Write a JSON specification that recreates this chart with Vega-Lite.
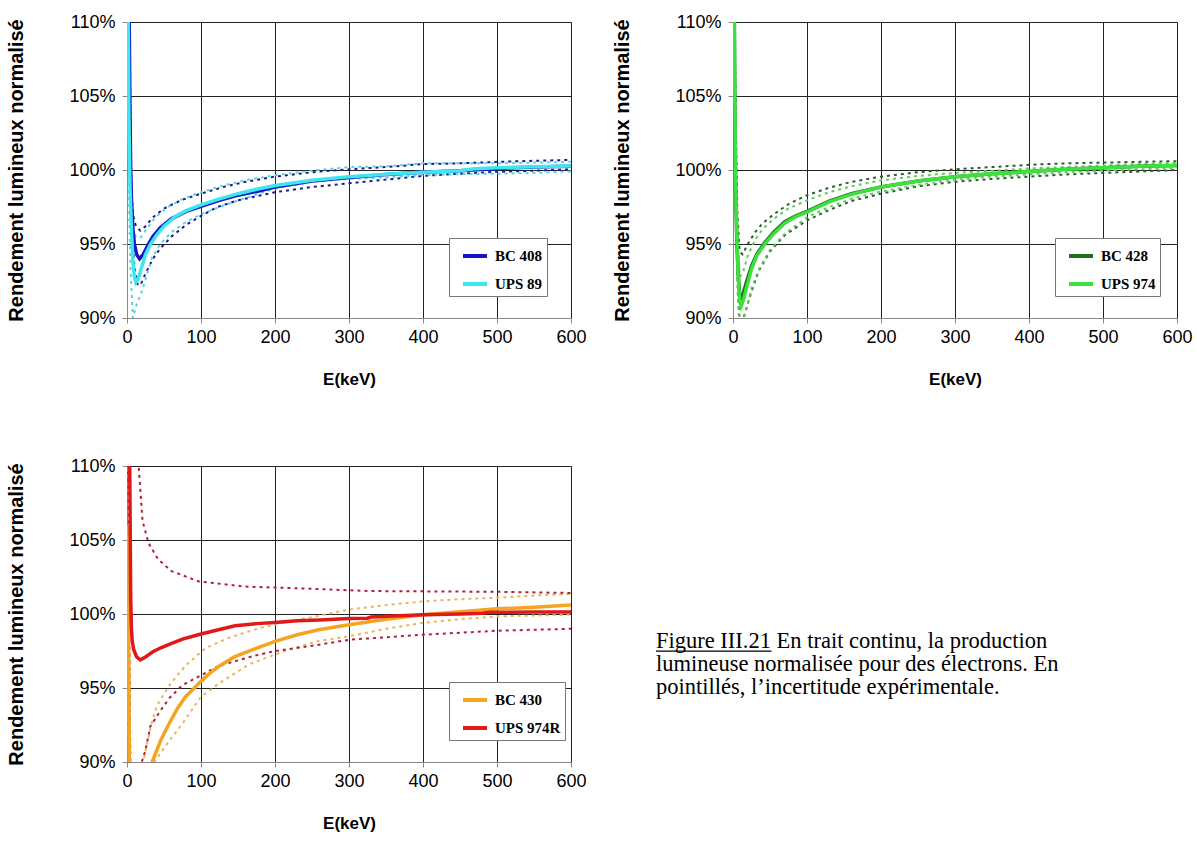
{
  "$schema": "https://vega.github.io/schema/vega-lite/v6.json",
  "padding": {"left": 6, "top": 12, "right": 5, "bottom": 5},
  "background": "white",
  "datasets": {
    "p1s": [
      {"s":"BC 408","E":0.5,"v":130},{"s":"BC 408","E":2,"v":118},{"s":"BC 408","E":3,"v":110},{"s":"BC 408","E":4,"v":104},{"s":"BC 408","E":5,"v":100},{"s":"BC 408","E":6,"v":98},{"s":"BC 408","E":8,"v":96},{"s":"BC 408","E":10,"v":95},{"s":"BC 408","E":13,"v":94.3},{"s":"BC 408","E":17,"v":94.0},{"s":"BC 408","E":22,"v":94.3},{"s":"BC 408","E":28,"v":94.9},{"s":"BC 408","E":35,"v":95.5},{"s":"BC 408","E":45,"v":96.1},{"s":"BC 408","E":60,"v":96.7},{"s":"BC 408","E":80,"v":97.2},{"s":"BC 408","E":100,"v":97.55},{"s":"BC 408","E":125,"v":97.95},{"s":"BC 408","E":150,"v":98.3},{"s":"BC 408","E":175,"v":98.55},{"s":"BC 408","E":200,"v":98.85},{"s":"BC 408","E":250,"v":99.25},{"s":"BC 408","E":300,"v":99.5},{"s":"BC 408","E":350,"v":99.7},{"s":"BC 408","E":400,"v":99.85},{"s":"BC 408","E":450,"v":99.95},{"s":"BC 408","E":500,"v":100.1},{"s":"BC 408","E":550,"v":100.2},{"s":"BC 408","E":600,"v":100.25},
      {"s":"UPS 89","E":0.5,"v":125},{"s":"UPS 89","E":1.5,"v":112},{"s":"UPS 89","E":2.5,"v":104},{"s":"UPS 89","E":4,"v":99},{"s":"UPS 89","E":6,"v":96},{"s":"UPS 89","E":8,"v":93.8},{"s":"UPS 89","E":10,"v":92.8},{"s":"UPS 89","E":12,"v":92.4},{"s":"UPS 89","E":15,"v":92.6},{"s":"UPS 89","E":19,"v":93.3},{"s":"UPS 89","E":25,"v":94.3},{"s":"UPS 89","E":32,"v":95.0},{"s":"UPS 89","E":40,"v":95.6},{"s":"UPS 89","E":50,"v":96.2},{"s":"UPS 89","E":65,"v":96.85},{"s":"UPS 89","E":80,"v":97.25},{"s":"UPS 89","E":100,"v":97.65},{"s":"UPS 89","E":125,"v":98.05},{"s":"UPS 89","E":150,"v":98.4},{"s":"UPS 89","E":175,"v":98.7},{"s":"UPS 89","E":200,"v":98.95},{"s":"UPS 89","E":250,"v":99.3},{"s":"UPS 89","E":300,"v":99.55},{"s":"UPS 89","E":350,"v":99.72},{"s":"UPS 89","E":400,"v":99.85},{"s":"UPS 89","E":450,"v":99.95},{"s":"UPS 89","E":470,"v":100.08},{"s":"UPS 89","E":500,"v":100.15},{"s":"UPS 89","E":550,"v":100.22},{"s":"UPS 89","E":600,"v":100.27}
    ],
    "p1d": [
      {"s":"BC 408","b":"hi","E":2,"v":112},{"s":"BC 408","b":"hi","E":4,"v":106},{"s":"BC 408","b":"hi","E":5,"v":102},{"s":"BC 408","b":"hi","E":6,"v":99},{"s":"BC 408","b":"hi","E":8,"v":97},{"s":"BC 408","b":"hi","E":12,"v":96.2},{"s":"BC 408","b":"hi","E":18,"v":95.9},{"s":"BC 408","b":"hi","E":25,"v":96.2},{"s":"BC 408","b":"hi","E":35,"v":96.8},{"s":"BC 408","b":"hi","E":50,"v":97.4},{"s":"BC 408","b":"hi","E":75,"v":98.0},{"s":"BC 408","b":"hi","E":100,"v":98.4},{"s":"BC 408","b":"hi","E":130,"v":98.85},{"s":"BC 408","b":"hi","E":160,"v":99.2},{"s":"BC 408","b":"hi","E":200,"v":99.55},{"s":"BC 408","b":"hi","E":250,"v":99.85},{"s":"BC 408","b":"hi","E":300,"v":100.05},{"s":"BC 408","b":"hi","E":350,"v":100.2},{"s":"BC 408","b":"hi","E":400,"v":100.4},{"s":"BC 408","b":"hi","E":450,"v":100.45},{"s":"BC 408","b":"hi","E":500,"v":100.55},{"s":"BC 408","b":"hi","E":550,"v":100.62},{"s":"BC 408","b":"hi","E":600,"v":100.68},
      {"s":"BC 408","b":"lo","E":3,"v":108},{"s":"BC 408","b":"lo","E":5,"v":100},{"s":"BC 408","b":"lo","E":7,"v":96},{"s":"BC 408","b":"lo","E":10,"v":93.5},{"s":"BC 408","b":"lo","E":14,"v":92.3},{"s":"BC 408","b":"lo","E":18,"v":92.2},{"s":"BC 408","b":"lo","E":25,"v":93.0},{"s":"BC 408","b":"lo","E":35,"v":94.0},{"s":"BC 408","b":"lo","E":45,"v":94.7},{"s":"BC 408","b":"lo","E":60,"v":95.5},{"s":"BC 408","b":"lo","E":80,"v":96.3},{"s":"BC 408","b":"lo","E":100,"v":96.9},{"s":"BC 408","b":"lo","E":122,"v":97.5},{"s":"BC 408","b":"lo","E":150,"v":97.95},{"s":"BC 408","b":"lo","E":200,"v":98.5},{"s":"BC 408","b":"lo","E":250,"v":98.85},{"s":"BC 408","b":"lo","E":320,"v":99.2},{"s":"BC 408","b":"lo","E":400,"v":99.6},{"s":"BC 408","b":"lo","E":450,"v":99.75},{"s":"BC 408","b":"lo","E":500,"v":99.88},{"s":"BC 408","b":"lo","E":550,"v":99.95},{"s":"BC 408","b":"lo","E":600,"v":100.05},
      {"s":"UPS 89","b":"hi","E":1,"v":115},{"s":"UPS 89","b":"hi","E":2,"v":106},{"s":"UPS 89","b":"hi","E":3,"v":101},{"s":"UPS 89","b":"hi","E":5,"v":97.5},{"s":"UPS 89","b":"hi","E":8,"v":96},{"s":"UPS 89","b":"hi","E":12,"v":95.5},{"s":"UPS 89","b":"hi","E":18,"v":95.4},{"s":"UPS 89","b":"hi","E":25,"v":95.9},{"s":"UPS 89","b":"hi","E":35,"v":96.6},{"s":"UPS 89","b":"hi","E":45,"v":97.1},{"s":"UPS 89","b":"hi","E":57,"v":97.55},{"s":"UPS 89","b":"hi","E":75,"v":98.05},{"s":"UPS 89","b":"hi","E":100,"v":98.5},{"s":"UPS 89","b":"hi","E":130,"v":98.95},{"s":"UPS 89","b":"hi","E":160,"v":99.3},{"s":"UPS 89","b":"hi","E":200,"v":99.65},{"s":"UPS 89","b":"hi","E":250,"v":99.95},{"s":"UPS 89","b":"hi","E":300,"v":100.2},{"s":"UPS 89","b":"hi","E":350,"v":100.25},{"s":"UPS 89","b":"hi","E":400,"v":100.45},{"s":"UPS 89","b":"hi","E":450,"v":100.45},{"s":"UPS 89","b":"hi","E":500,"v":100.45},{"s":"UPS 89","b":"hi","E":550,"v":100.5},{"s":"UPS 89","b":"hi","E":600,"v":100.56},
      {"s":"UPS 89","b":"lo","E":1,"v":110},{"s":"UPS 89","b":"lo","E":2,"v":103},{"s":"UPS 89","b":"lo","E":3,"v":97},{"s":"UPS 89","b":"lo","E":5,"v":93},{"s":"UPS 89","b":"lo","E":8,"v":90.0},{"s":"UPS 89","b":"lo","E":13,"v":90.9},{"s":"UPS 89","b":"lo","E":20,"v":91.8},{"s":"UPS 89","b":"lo","E":25,"v":92.6},{"s":"UPS 89","b":"lo","E":34,"v":94.1},{"s":"UPS 89","b":"lo","E":45,"v":95.0},{"s":"UPS 89","b":"lo","E":60,"v":95.8},{"s":"UPS 89","b":"lo","E":80,"v":96.5},{"s":"UPS 89","b":"lo","E":100,"v":97.0},{"s":"UPS 89","b":"lo","E":130,"v":97.6},{"s":"UPS 89","b":"lo","E":160,"v":98.1},{"s":"UPS 89","b":"lo","E":200,"v":98.75},{"s":"UPS 89","b":"lo","E":250,"v":99.2},{"s":"UPS 89","b":"lo","E":300,"v":99.4},{"s":"UPS 89","b":"lo","E":350,"v":99.5},{"s":"UPS 89","b":"lo","E":400,"v":99.65},{"s":"UPS 89","b":"lo","E":450,"v":99.72},{"s":"UPS 89","b":"lo","E":500,"v":99.75},{"s":"UPS 89","b":"lo","E":550,"v":99.8},{"s":"UPS 89","b":"lo","E":600,"v":99.9}
    ],
    "p2s": [
      {"s":"BC 428","E":0.5,"v":125},{"s":"BC 428","E":1.5,"v":112},{"s":"BC 428","E":2.5,"v":104},{"s":"BC 428","E":3.5,"v":99},{"s":"BC 428","E":5,"v":95.5},{"s":"BC 428","E":7,"v":93},{"s":"BC 428","E":9,"v":91.6},{"s":"BC 428","E":11,"v":91.3},{"s":"BC 428","E":14,"v":91.7},{"s":"BC 428","E":18,"v":92.4},{"s":"BC 428","E":25,"v":93.5},{"s":"BC 428","E":32,"v":94.3},{"s":"BC 428","E":43,"v":95.1},{"s":"BC 428","E":55,"v":95.8},{"s":"BC 428","E":70,"v":96.5},{"s":"BC 428","E":85,"v":96.9},{"s":"BC 428","E":100,"v":97.2},{"s":"BC 428","E":130,"v":97.9},{"s":"BC 428","E":160,"v":98.4},{"s":"BC 428","E":200,"v":98.85},{"s":"BC 428","E":250,"v":99.25},{"s":"BC 428","E":300,"v":99.55},{"s":"BC 428","E":350,"v":99.75},{"s":"BC 428","E":400,"v":99.9},{"s":"BC 428","E":450,"v":100.05},{"s":"BC 428","E":500,"v":100.15},{"s":"BC 428","E":550,"v":100.25},{"s":"BC 428","E":600,"v":100.3},
      {"s":"UPS 974","E":0.5,"v":126},{"s":"UPS 974","E":1.5,"v":113},{"s":"UPS 974","E":2.5,"v":105},{"s":"UPS 974","E":3.5,"v":99.5},{"s":"UPS 974","E":5,"v":96},{"s":"UPS 974","E":7,"v":92.8},{"s":"UPS 974","E":9,"v":91.2},{"s":"UPS 974","E":11,"v":90.8},{"s":"UPS 974","E":14,"v":91.2},{"s":"UPS 974","E":18,"v":92.0},{"s":"UPS 974","E":25,"v":93.3},{"s":"UPS 974","E":32,"v":94.2},{"s":"UPS 974","E":43,"v":95.0},{"s":"UPS 974","E":55,"v":95.7},{"s":"UPS 974","E":70,"v":96.4},{"s":"UPS 974","E":85,"v":96.85},{"s":"UPS 974","E":100,"v":97.15},{"s":"UPS 974","E":130,"v":97.85},{"s":"UPS 974","E":160,"v":98.35},{"s":"UPS 974","E":200,"v":98.85},{"s":"UPS 974","E":250,"v":99.25},{"s":"UPS 974","E":300,"v":99.55},{"s":"UPS 974","E":350,"v":99.75},{"s":"UPS 974","E":400,"v":99.9},{"s":"UPS 974","E":450,"v":100.05},{"s":"UPS 974","E":500,"v":100.15},{"s":"UPS 974","E":550,"v":100.25},{"s":"UPS 974","E":600,"v":100.3}
    ],
    "p2d": [
      {"s":"BC 428","b":"hi","E":2,"v":110},{"s":"BC 428","b":"hi","E":4,"v":102.7},{"s":"BC 428","b":"hi","E":6,"v":97},{"s":"BC 428","b":"hi","E":9,"v":94.5},{"s":"BC 428","b":"hi","E":13,"v":94.3},{"s":"BC 428","b":"hi","E":20,"v":95.0},{"s":"BC 428","b":"hi","E":30,"v":95.8},{"s":"BC 428","b":"hi","E":40,"v":96.4},{"s":"BC 428","b":"hi","E":55,"v":97.0},{"s":"BC 428","b":"hi","E":75,"v":97.7},{"s":"BC 428","b":"hi","E":100,"v":98.3},{"s":"BC 428","b":"hi","E":130,"v":98.8},{"s":"BC 428","b":"hi","E":160,"v":99.2},{"s":"BC 428","b":"hi","E":200,"v":99.55},{"s":"BC 428","b":"hi","E":250,"v":99.85},{"s":"BC 428","b":"hi","E":300,"v":100.05},{"s":"BC 428","b":"hi","E":350,"v":100.2},{"s":"BC 428","b":"hi","E":400,"v":100.35},{"s":"BC 428","b":"hi","E":450,"v":100.45},{"s":"BC 428","b":"hi","E":500,"v":100.5},{"s":"BC 428","b":"hi","E":550,"v":100.55},{"s":"BC 428","b":"hi","E":600,"v":100.6},
      {"s":"BC 428","b":"lo","E":2,"v":104},{"s":"BC 428","b":"lo","E":4,"v":97},{"s":"BC 428","b":"lo","E":6,"v":93},{"s":"BC 428","b":"lo","E":8,"v":90.5},{"s":"BC 428","b":"lo","E":10,"v":89.5},{"s":"BC 428","b":"lo","E":13,"v":89.8},{"s":"BC 428","b":"lo","E":16,"v":90.3},{"s":"BC 428","b":"lo","E":25,"v":91.8},{"s":"BC 428","b":"lo","E":35,"v":93.2},{"s":"BC 428","b":"lo","E":50,"v":94.5},{"s":"BC 428","b":"lo","E":70,"v":95.6},{"s":"BC 428","b":"lo","E":100,"v":96.6},{"s":"BC 428","b":"lo","E":130,"v":97.3},{"s":"BC 428","b":"lo","E":160,"v":97.9},{"s":"BC 428","b":"lo","E":200,"v":98.4},{"s":"BC 428","b":"lo","E":250,"v":98.9},{"s":"BC 428","b":"lo","E":300,"v":99.2},{"s":"BC 428","b":"lo","E":350,"v":99.4},{"s":"BC 428","b":"lo","E":400,"v":99.55},{"s":"BC 428","b":"lo","E":450,"v":99.7},{"s":"BC 428","b":"lo","E":500,"v":99.8},{"s":"BC 428","b":"lo","E":550,"v":99.9},{"s":"BC 428","b":"lo","E":600,"v":100.0},
      {"s":"UPS 974","b":"hi","E":2,"v":107},{"s":"UPS 974","b":"hi","E":4,"v":99},{"s":"UPS 974","b":"hi","E":6,"v":95},{"s":"UPS 974","b":"hi","E":9,"v":92.8},{"s":"UPS 974","b":"hi","E":13,"v":93.0},{"s":"UPS 974","b":"hi","E":20,"v":94.2},{"s":"UPS 974","b":"hi","E":30,"v":95.3},{"s":"UPS 974","b":"hi","E":40,"v":96.0},{"s":"UPS 974","b":"hi","E":55,"v":96.7},{"s":"UPS 974","b":"hi","E":75,"v":97.4},{"s":"UPS 974","b":"hi","E":100,"v":97.95},{"s":"UPS 974","b":"hi","E":130,"v":98.5},{"s":"UPS 974","b":"hi","E":160,"v":98.9},{"s":"UPS 974","b":"hi","E":200,"v":99.3},{"s":"UPS 974","b":"hi","E":250,"v":99.6},{"s":"UPS 974","b":"hi","E":300,"v":99.8},{"s":"UPS 974","b":"hi","E":350,"v":99.95},{"s":"UPS 974","b":"hi","E":400,"v":100.1},{"s":"UPS 974","b":"hi","E":450,"v":100.2},{"s":"UPS 974","b":"hi","E":500,"v":100.3},{"s":"UPS 974","b":"hi","E":550,"v":100.4},{"s":"UPS 974","b":"hi","E":600,"v":100.5},
      {"s":"UPS 974","b":"lo","E":2,"v":105},{"s":"UPS 974","b":"lo","E":4,"v":96.5},{"s":"UPS 974","b":"lo","E":6,"v":92},{"s":"UPS 974","b":"lo","E":8,"v":90.0},{"s":"UPS 974","b":"lo","E":10,"v":89.3},{"s":"UPS 974","b":"lo","E":13,"v":89.6},{"s":"UPS 974","b":"lo","E":18,"v":90.6},{"s":"UPS 974","b":"lo","E":25,"v":92.0},{"s":"UPS 974","b":"lo","E":35,"v":93.3},{"s":"UPS 974","b":"lo","E":50,"v":94.6},{"s":"UPS 974","b":"lo","E":70,"v":95.7},{"s":"UPS 974","b":"lo","E":100,"v":96.8},{"s":"UPS 974","b":"lo","E":130,"v":97.5},{"s":"UPS 974","b":"lo","E":160,"v":98.05},{"s":"UPS 974","b":"lo","E":200,"v":98.55},{"s":"UPS 974","b":"lo","E":250,"v":99.0},{"s":"UPS 974","b":"lo","E":300,"v":99.35},{"s":"UPS 974","b":"lo","E":350,"v":99.55},{"s":"UPS 974","b":"lo","E":400,"v":99.7},{"s":"UPS 974","b":"lo","E":450,"v":99.85},{"s":"UPS 974","b":"lo","E":500,"v":99.95},{"s":"UPS 974","b":"lo","E":550,"v":100.05},{"s":"UPS 974","b":"lo","E":600,"v":100.1}
    ],
    "p3s": [
      {"s":"BC 430","E":0.5,"v":106},{"s":"BC 430","E":1.5,"v":101},{"s":"BC 430","E":2.5,"v":96},{"s":"BC 430","E":3.5,"v":88},{"s":"BC 430","E":5,"v":82},{"s":"BC 430","E":10,"v":80},{"s":"BC 430","E":20,"v":84},{"s":"BC 430","E":30,"v":88.5},{"s":"BC 430","E":34,"v":90.0},{"s":"BC 430","E":45,"v":91.4},{"s":"BC 430","E":57,"v":92.6},{"s":"BC 430","E":68,"v":93.6},{"s":"BC 430","E":79,"v":94.4},{"s":"BC 430","E":90,"v":94.95},{"s":"BC 430","E":100,"v":95.45},{"s":"BC 430","E":112,"v":96.0},{"s":"BC 430","E":124,"v":96.45},{"s":"BC 430","E":145,"v":97.1},{"s":"BC 430","E":170,"v":97.6},{"s":"BC 430","E":200,"v":98.15},{"s":"BC 430","E":230,"v":98.6},{"s":"BC 430","E":259,"v":98.94},{"s":"BC 430","E":300,"v":99.28},{"s":"BC 430","E":350,"v":99.65},{"s":"BC 430","E":400,"v":99.95},{"s":"BC 430","E":450,"v":100.15},{"s":"BC 430","E":500,"v":100.35},{"s":"BC 430","E":550,"v":100.45},{"s":"BC 430","E":600,"v":100.6},
      {"s":"UPS 974R","E":0.5,"v":130},{"s":"UPS 974R","E":2,"v":120},{"s":"UPS 974R","E":3,"v":114},{"s":"UPS 974R","E":4,"v":108},{"s":"UPS 974R","E":5,"v":101},{"s":"UPS 974R","E":6,"v":99},{"s":"UPS 974R","E":7,"v":98.2},{"s":"UPS 974R","E":9,"v":97.6},{"s":"UPS 974R","E":13,"v":97.1},{"s":"UPS 974R","E":18,"v":96.9},{"s":"UPS 974R","E":25,"v":97.1},{"s":"UPS 974R","E":35,"v":97.45},{"s":"UPS 974R","E":45,"v":97.7},{"s":"UPS 974R","E":57,"v":97.95},{"s":"UPS 974R","E":75,"v":98.3},{"s":"UPS 974R","E":100,"v":98.65},{"s":"UPS 974R","E":125,"v":98.95},{"s":"UPS 974R","E":146,"v":99.2},{"s":"UPS 974R","E":175,"v":99.35},{"s":"UPS 974R","E":200,"v":99.43},{"s":"UPS 974R","E":230,"v":99.55},{"s":"UPS 974R","E":260,"v":99.6},{"s":"UPS 974R","E":300,"v":99.7},{"s":"UPS 974R","E":325,"v":99.72},{"s":"UPS 974R","E":330,"v":99.8},{"s":"UPS 974R","E":400,"v":99.95},{"s":"UPS 974R","E":450,"v":100.0},{"s":"UPS 974R","E":480,"v":100.05},{"s":"UPS 974R","E":490,"v":100.12},{"s":"UPS 974R","E":550,"v":100.13},{"s":"UPS 974R","E":600,"v":100.13}
    ],
    "p3d": [
      {"s":"BC 430","b":"hi","E":0.5,"v":112},{"s":"BC 430","b":"hi","E":1.5,"v":103},{"s":"BC 430","b":"hi","E":2.5,"v":95},{"s":"BC 430","b":"hi","E":3.5,"v":88},{"s":"BC 430","b":"hi","E":6,"v":82},{"s":"BC 430","b":"hi","E":12,"v":84},{"s":"BC 430","b":"hi","E":22,"v":90},{"s":"BC 430","b":"hi","E":32,"v":92.4},{"s":"BC 430","b":"hi","E":40,"v":93.75},{"s":"BC 430","b":"hi","E":50,"v":94.6},{"s":"BC 430","b":"hi","E":59,"v":95.3},{"s":"BC 430","b":"hi","E":79,"v":96.5},{"s":"BC 430","b":"hi","E":106,"v":97.7},{"s":"BC 430","b":"hi","E":138,"v":98.4},{"s":"BC 430","b":"hi","E":179,"v":99.05},{"s":"BC 430","b":"hi","E":220,"v":99.5},{"s":"BC 430","b":"hi","E":256,"v":99.85},{"s":"BC 430","b":"hi","E":300,"v":100.3},{"s":"BC 430","b":"hi","E":350,"v":100.6},{"s":"BC 430","b":"hi","E":400,"v":100.85},{"s":"BC 430","b":"hi","E":450,"v":101.0},{"s":"BC 430","b":"hi","E":500,"v":101.1},{"s":"BC 430","b":"hi","E":550,"v":101.25},{"s":"BC 430","b":"hi","E":600,"v":101.35},
      {"s":"BC 430","b":"lo","E":0.5,"v":100},{"s":"BC 430","b":"lo","E":1.5,"v":95},{"s":"BC 430","b":"lo","E":2.5,"v":89},{"s":"BC 430","b":"lo","E":4,"v":84},{"s":"BC 430","b":"lo","E":10,"v":78},{"s":"BC 430","b":"lo","E":25,"v":85},{"s":"BC 430","b":"lo","E":37,"v":90.0},{"s":"BC 430","b":"lo","E":55,"v":91.3},{"s":"BC 430","b":"lo","E":75,"v":92.6},{"s":"BC 430","b":"lo","E":100,"v":94.4},{"s":"BC 430","b":"lo","E":124,"v":95.3},{"s":"BC 430","b":"lo","E":165,"v":96.6},{"s":"BC 430","b":"lo","E":210,"v":97.45},{"s":"BC 430","b":"lo","E":256,"v":98.15},{"s":"BC 430","b":"lo","E":300,"v":98.5},{"s":"BC 430","b":"lo","E":350,"v":99.0},{"s":"BC 430","b":"lo","E":400,"v":99.4},{"s":"BC 430","b":"lo","E":450,"v":99.65},{"s":"BC 430","b":"lo","E":500,"v":99.84},{"s":"BC 430","b":"lo","E":550,"v":99.9},{"s":"BC 430","b":"lo","E":600,"v":99.95},
      {"s":"UPS 974R","b":"hi","E":8,"v":125},{"s":"UPS 974R","b":"hi","E":12,"v":113},{"s":"UPS 974R","b":"hi","E":16,"v":109.8},{"s":"UPS 974R","b":"hi","E":21,"v":106.3},{"s":"UPS 974R","b":"hi","E":29,"v":104.8},{"s":"UPS 974R","b":"hi","E":42,"v":103.7},{"s":"UPS 974R","b":"hi","E":60,"v":102.9},{"s":"UPS 974R","b":"hi","E":97,"v":102.2},{"s":"UPS 974R","b":"hi","E":160,"v":101.85},{"s":"UPS 974R","b":"hi","E":222,"v":101.75},{"s":"UPS 974R","b":"hi","E":330,"v":101.55},{"s":"UPS 974R","b":"hi","E":400,"v":101.53},{"s":"UPS 974R","b":"hi","E":500,"v":101.5},{"s":"UPS 974R","b":"hi","E":600,"v":101.42},
      {"s":"UPS 974R","b":"lo","E":1,"v":112},{"s":"UPS 974R","b":"lo","E":2,"v":106},{"s":"UPS 974R","b":"lo","E":3,"v":100},{"s":"UPS 974R","b":"lo","E":4,"v":93},{"s":"UPS 974R","b":"lo","E":5,"v":88},{"s":"UPS 974R","b":"lo","E":10,"v":84},{"s":"UPS 974R","b":"lo","E":20,"v":90.0},{"s":"UPS 974R","b":"lo","E":25,"v":90.8},{"s":"UPS 974R","b":"lo","E":31.5,"v":92.4},{"s":"UPS 974R","b":"lo","E":43,"v":93.3},{"s":"UPS 974R","b":"lo","E":57,"v":94.3},{"s":"UPS 974R","b":"lo","E":75,"v":95.2},{"s":"UPS 974R","b":"lo","E":98,"v":95.8},{"s":"UPS 974R","b":"lo","E":124,"v":96.5},{"s":"UPS 974R","b":"lo","E":170,"v":97.15},{"s":"UPS 974R","b":"lo","E":200,"v":97.5},{"s":"UPS 974R","b":"lo","E":256,"v":97.9},{"s":"UPS 974R","b":"lo","E":300,"v":98.26},{"s":"UPS 974R","b":"lo","E":400,"v":98.6},{"s":"UPS 974R","b":"lo","E":500,"v":98.87},{"s":"UPS 974R","b":"lo","E":600,"v":99.0}
    ],
    "cap": [
      {"line": 1, "text": "Figure III.21 En trait continu, la production"},
      {"line": 2, "text": "lumineuse normalisée pour des électrons. En"},
      {"line": 3, "text": "pointillés, l’incertitude expérimentale."}
    ]
  },
  "vconcat": [
    {
      "hconcat": [
        {
          "width": 444, "height": 296,
          "layer": [
            {"data": {"name": "p1d"}, "mark": {"type": "line", "clip": true, "strokeWidth": 2, "strokeDash": [3, 4]},
             "encoding": {
               "x": {"field": "E", "type": "quantitative", "scale": {"domain": [0, 600], "nice": false}, "axis": {"values": [0,100,200,300,400,500,600], "title": "E(keV)"}},
               "y": {"field": "v", "type": "quantitative", "scale": {"domain": [90, 110], "nice": false, "zero": false}, "axis": {"values": [90,95,100,105,110], "labelExpr": "datum.value + '%'", "title": "Rendement lumineux normalisé"}},
               "color": {"field": "s", "type": "nominal", "scale": {"domain": ["BC 408", "UPS 89"], "range": ["#1c1c8c", "#5ad4de"]}, "legend": null},
               "detail": {"field": "b"}}},
            {"data": {"name": "p1s"}, "mark": {"type": "line", "clip": true, "strokeWidth": 3.5},
             "encoding": {
               "x": {"field": "E", "type": "quantitative"},
               "y": {"field": "v", "type": "quantitative"},
               "color": {"field": "s", "type": "nominal", "scale": {"domain": ["BC 408", "UPS 89"], "range": ["#1414c8", "#3ee6f0"]}, "legend": {"title": null, "orient": "none", "legendX": 322, "legendY": 216}}}}
          ],
          "resolve": {"scale": {"color": "independent"}}
        },
        {
          "width": 444, "height": 296,
          "layer": [
            {"data": {"name": "p2d"}, "mark": {"type": "line", "clip": true, "strokeWidth": 2, "strokeDash": [3, 4]},
             "encoding": {
               "x": {"field": "E", "type": "quantitative", "scale": {"domain": [0, 600], "nice": false}, "axis": {"values": [0,100,200,300,400,500,600], "title": "E(keV)"}},
               "y": {"field": "v", "type": "quantitative", "scale": {"domain": [90, 110], "nice": false, "zero": false}, "axis": {"values": [90,95,100,105,110], "labelExpr": "datum.value + '%'", "title": "Rendement lumineux normalisé"}},
               "color": {"field": "s", "type": "nominal", "scale": {"domain": ["BC 428", "UPS 974"], "range": ["#2c5e2c", "#5ccc5c"]}, "legend": null},
               "detail": {"field": "b"}}},
            {"data": {"name": "p2s"}, "mark": {"type": "line", "clip": true, "strokeWidth": 3.5},
             "encoding": {
               "x": {"field": "E", "type": "quantitative"},
               "y": {"field": "v", "type": "quantitative"},
               "color": {"field": "s", "type": "nominal", "scale": {"domain": ["BC 428", "UPS 974"], "range": ["#1e6e1e", "#3de03d"]}, "legend": {"title": null, "orient": "none", "legendX": 322, "legendY": 216}}}}
          ],
          "resolve": {"scale": {"color": "independent"}}
        }
      ],
      "spacing": 25
    },
    {
      "hconcat": [
        {
          "width": 444, "height": 296,
          "layer": [
            {"data": {"name": "p3d"}, "mark": {"type": "line", "clip": true, "strokeWidth": 2, "strokeDash": [3, 4]},
             "encoding": {
               "x": {"field": "E", "type": "quantitative", "scale": {"domain": [0, 600], "nice": false}, "axis": {"values": [0,100,200,300,400,500,600], "title": "E(keV)"}},
               "y": {"field": "v", "type": "quantitative", "scale": {"domain": [90, 110], "nice": false, "zero": false}, "axis": {"values": [90,95,100,105,110], "labelExpr": "datum.value + '%'", "title": "Rendement lumineux normalisé"}},
               "color": {"field": "s", "type": "nominal", "scale": {"domain": ["BC 430", "UPS 974R"], "range": ["#e8b45c", "#b0203c"]}, "legend": null},
               "detail": {"field": "b"}}},
            {"data": {"name": "p3s"}, "mark": {"type": "line", "clip": true, "strokeWidth": 3.5},
             "encoding": {
               "x": {"field": "E", "type": "quantitative"},
               "y": {"field": "v", "type": "quantitative"},
               "color": {"field": "s", "type": "nominal", "scale": {"domain": ["BC 430", "UPS 974R"], "range": ["#f5a420", "#e01818"]}, "legend": {"title": null, "orient": "none", "legendX": 322, "legendY": 216}}}}
          ],
          "resolve": {"scale": {"color": "independent"}}
        },
        {
          "width": 520, "height": 296,
          "view": {"stroke": null},
          "data": {"name": "cap"},
          "layer": [
            {"mark": {"type": "text", "font": "Liberation Serif", "fontSize": 22.5, "align": "left", "baseline": "alphabetic", "color": "#000"},
             "encoding": {
               "x": {"datum": 0, "type": "quantitative", "scale": {"domain": [0, 1]}, "axis": null},
               "y": {"field": "line", "type": "quantitative", "scale": {"domain": [-6.18, 5.43], "reverse": true}, "axis": null},
               "text": {"field": "text"}}},
            {"transform": [{"filter": "datum.line === 1"}],
             "mark": {"type": "rule", "color": "#000", "strokeWidth": 1.2, "yOffset": 3},
             "encoding": {
               "x": {"datum": 0, "type": "quantitative"},
               "x2": {"datum": 0.222},
               "y": {"field": "line", "type": "quantitative"}}}
          ]
        }
      ],
      "spacing": 68
    }
  ],
  "spacing": 68,
  "config": {
    "font": "Liberation Sans",
    "view": {"stroke": "#888", "strokeWidth": 1},
    "axis": {
      "labelFont": "Liberation Sans", "labelFontSize": 18, "labelColor": "#000",
      "titleFont": "Liberation Sans", "titleFontWeight": "bold", "titleColor": "#000",
      "domainColor": "#888", "tickColor": "#888", "tickSize": 5,
      "grid": true, "gridColor": "#222", "gridOpacity": 1, "gridWidth": 1
    },
    "axisX": {"labelPadding": 5, "titleFontSize": 17, "titlePadding": 25, "labelFlush": false},
    "axisY": {"labelPadding": 7, "titleFontSize": 20, "titlePadding": 42},
    "legend": {
      "fillColor": "#fff", "strokeColor": "#777", "padding": 4,
      "symbolType": "stroke", "symbolSize": 576, "symbolStrokeWidth": 4,
      "labelFont": "Liberation Serif", "labelFontWeight": "bold", "labelFontSize": 15, "labelColor": "#000",
      "rowPadding": 6, "labelOffset": 6, "symbolOffset": 8
    }
  }
}
